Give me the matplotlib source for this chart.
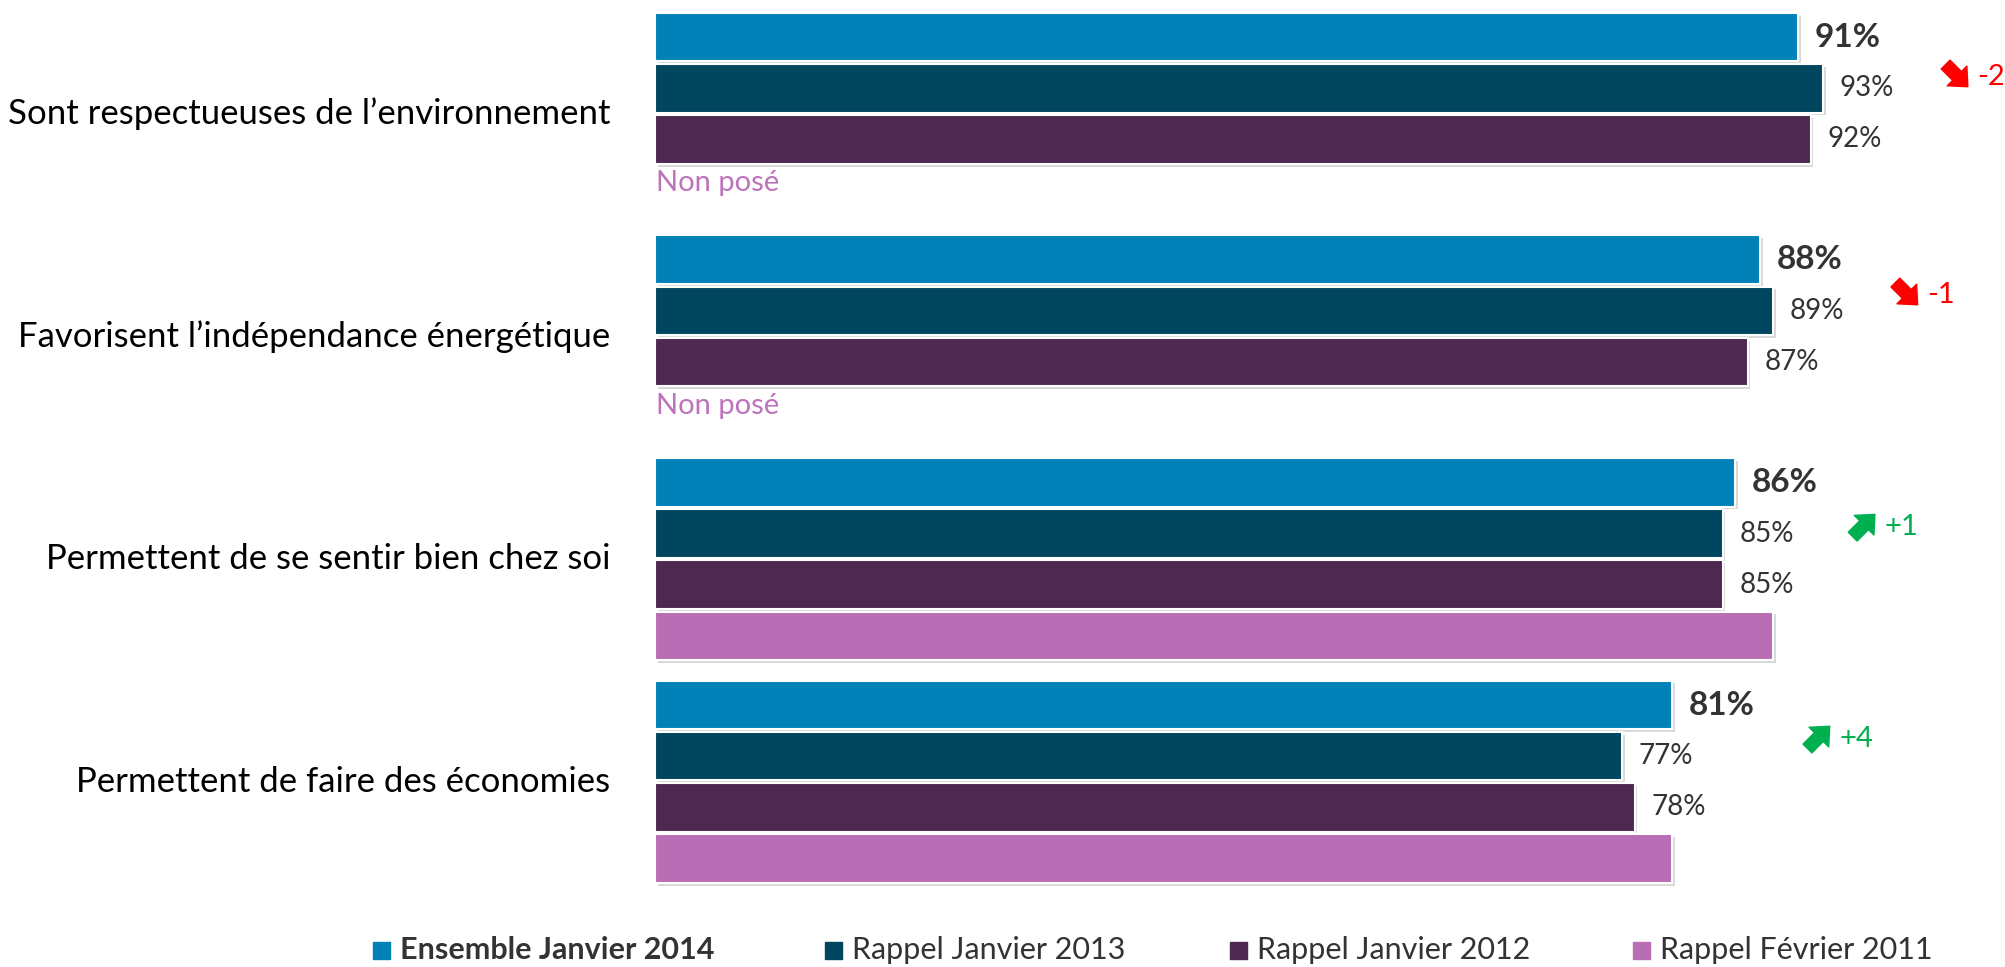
import matplotlib
matplotlib.use("Agg")
import matplotlib.pyplot as plt
import matplotlib.patheffects as pe
from matplotlib.patches import Rectangle
from matplotlib.transforms import offset_copy

plt.rcParams['font.family'] = ['Lato', 'DejaVu Sans']

# données
categories = ["Sont respectueuses de l\u2019environnement",
              "Favorisent l\u2019ind\u00e9pendance \u00e9nerg\u00e9tique",
              "Permettent de se sentir bien chez soi",
              "Permettent de faire des \u00e9conomies"]
series_names = ["Ensemble Janvier 2014", "Rappel Janvier 2013",
                "Rappel Janvier 2012", "Rappel F\u00e9vrier 2011"]
v2014 = [91, 88, 86, 81]
v2013 = [93, 89, 85, 77]
v2012 = [92, 87, 85, 78]
v2011 = [None, None, 89, 81]   # pas d'étiquette dans l'original
evolutions = ["-2", "-1", "+1", "+4"]

colors = ["#0081B8", "#00465F", "#4F2851", "#B86DB5"]
txt_col = "#333333"
red = "#FF0000"
green = "#00B050"

fig = plt.figure(figsize=(20.06, 9.67), dpi=100)
W, H = 2006, 967
ax = fig.add_axes([655 / W, 1 - 900 / H, 1256 / W, 900 / H])
ax.set_xlim(0, 100)
ax.set_ylim(16.86, -0.725)
ax.axis("off")

group_step = 4.35
all_series = [v2014, v2013, v2012, v2011]
shadow = [pe.withSimplePatchShadow(offset=(2, -2), shadow_rgbFace="0.7", alpha=0.5), pe.Normal()]

for g, cat in enumerate(categories):
    base = g * group_step
    for i, serie in enumerate(all_series):
        val = serie[g]
        if val is None:
            continue
        b = ax.barh(base + i, val, height=0.95, color=colors[i],
                    edgecolor="white", linewidth=1.5)
        for p in b.patches:
            p.set_path_effects(shadow)
        if i == 0:
            ax.annotate(f"{val}%", (val, base + i), xytext=(12, 0), textcoords="offset points",
                        ha="left", va="center", fontsize=24, fontweight="bold", color=txt_col)
        elif i < 3:
            ax.annotate(f"{val}%", (val, base + i), xytext=(12, 0), textcoords="offset points",
                        ha="left", va="center", fontsize=20, color=txt_col)
    if v2011[g] is None:
        ax.annotate("Non pos\u00e9", (0, base + 2.85), xytext=(1, 0), textcoords="offset points",
                    ha="left", va="center", fontsize=21, color="#BE72BB")
    ax.annotate(cat, (0, base + 1.5), xytext=(-32, 0), textcoords="offset points",
                ha="right", va="center", fontsize=25, color="black")

# évolutions (flèches + texte)
evo_x = [105.3, 101.3, 97.9, 94.3]
evo_dy = [0.78, 0.69, 0.87, 0.66]
for g, ev in enumerate(evolutions):
    x = evo_x[g]
    y = g * group_step + evo_dy[g]
    up = ev.startswith("+")
    c = green if up else red
    head = offset_copy(ax.transData, fig=fig, x=-7, y=(9 if up else -7), units="points")
    ax.annotate("", xy=(x, y), xycoords=head,
                xytext=(-16, (-16 if up else 16)), textcoords="offset points",
                arrowprops=dict(arrowstyle="simple,head_length=0.55,head_width=1.0,tail_width=0.45",
                                color=c, shrinkA=0, shrinkB=0, mutation_scale=20))
    ax.text(x, y, ev, ha="left", va="center", fontsize=21, color=c)

# légende
sq_x = [373, 825, 1230, 1633]
ly = 950
for i, name in enumerate(series_names):
    fig.patches.append(Rectangle((sq_x[i] / W, (H - ly - 8.5) / H), 17 / W, 17 / H,
                                 transform=fig.transFigure, color=colors[i]))
    fig.text((sq_x[i] + 27) / W, (H - ly) / H, name, ha="left", va="center",
             fontsize=22, color=txt_col, fontweight="bold" if i == 0 else "normal")

fig.savefig("out.png", dpi=100, facecolor="white")
